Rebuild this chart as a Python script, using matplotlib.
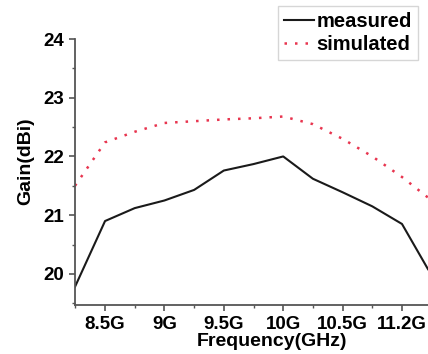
import matplotlib.pyplot as plt
from matplotlib.ticker import MultipleLocator

plt.rcParams['font.family'] = ['Liberation Sans', 'DejaVu Sans']
plt.rcParams['font.weight'] = 'bold'

# frequency points (GHz, plotted on an evenly spaced axis)
freq = [8.247, 8.5, 8.75, 9.0, 9.25, 9.5, 9.75, 10.0, 10.25, 10.5, 10.75, 11.0, 11.219]
measured = [19.78, 20.9, 21.12, 21.25, 21.43, 21.76, 21.87, 22.0, 21.62, 21.39, 21.15, 20.85, 20.08]
simulated = [21.5, 22.24, 22.42, 22.57, 22.6, 22.63, 22.65, 22.68, 22.55, 22.3, 22.0, 21.65, 21.3]

tick_pos = [8.5, 9.0, 9.5, 10.0, 10.5, 11.0]
tick_labels = ['8.5G', '9G', '9.5G', '10G', '10.5G', '11.2G']

fig = plt.figure(figsize=(4.28, 3.54), dpi=100)
ax = fig.add_axes([75 / 428, 1 - 305 / 354, 1 - 75 / 428, (305 - 39) / 354])

ax.plot(freq, measured, color='#1a1a1a', lw=1.5, label='measured')
ax.plot(freq, simulated, color='#e8354f', lw=1.8, linestyle=(0, (1, 3.2)), label='simulated')

ax.set_xlim(8.247, 11.219)
ax.set_ylim(19.47, 24)
ax.set_xticks(tick_pos)
ax.set_xticklabels(tick_labels)
ax.set_yticks([20, 21, 22, 23, 24])
ax.xaxis.set_minor_locator(MultipleLocator(0.25))
ax.yaxis.set_minor_locator(MultipleLocator(0.5))

for side in ['top', 'right']:
    ax.spines[side].set_visible(False)
for side in ['left', 'bottom']:
    ax.spines[side].set_color('#555555')
    ax.spines[side].set_linewidth(1.3)

ax.tick_params(which='major', direction='out', length=4, width=1.2, color='#555555',
               labelsize=13.5, pad=4)
ax.tick_params(which='minor', direction='out', length=2.5, width=1.0, color='#555555')
for lbl in ax.get_xticklabels() + ax.get_yticklabels():
    lbl.set_fontweight('bold')

ax.set_xlabel('Frequency(GHz)', fontsize=14, fontweight='bold')
ax.xaxis.set_label_coords(0.557, -0.105)
ax.set_ylabel('Gain(dBi)', fontsize=14, fontweight='bold')
ax.yaxis.set_label_coords(-0.115, 0.541)

leg = ax.legend(loc='upper right', bbox_to_anchor=(418 / 428, 1 - 6 / 354),
                bbox_transform=fig.transFigure, fontsize=14.5, frameon=True,
                fancybox=False, handlelength=1.45, handletextpad=0.15,
                borderpad=0.3, labelspacing=0.2, borderaxespad=0)
leg.get_frame().set_edgecolor('#cccccc')
leg.get_frame().set_linewidth(1.0)
for t in leg.get_texts():
    t.set_fontweight('bold')

fig.savefig('out.png', dpi=100)
